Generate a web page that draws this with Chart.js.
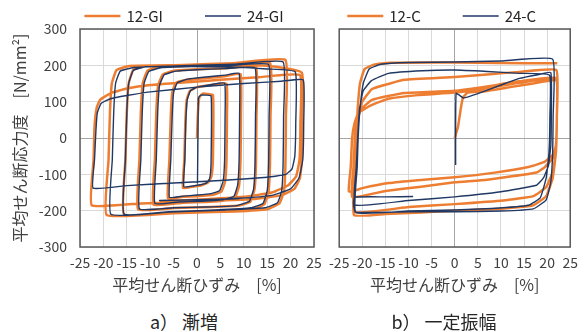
<!DOCTYPE html>
<html>
<head>
<meta charset="utf-8">
<script src="https://cdn.jsdelivr.net/npm/chart.js@4.4.1/dist/chart.umd.min.js"></script>
<style>
body { margin:0; background:#fff; width:585px; height:332px; position:relative; overflow:hidden; font-family:'Noto Sans CJK JP', sans-serif; }
.pane { position:absolute; top:0; }
.cap { position:absolute; top:311px; font-size:18px; line-height:20px; color:#262626; transform:translateX(-50%); white-space:nowrap; }
</style>
</head>
<body>
<div class="pane" style="left:0"><canvas id="chartA" width="330" height="300"></canvas></div>
<div class="pane" style="left:322px"><canvas id="chartB" width="263" height="300"></canvas></div>
<div class="cap" style="left:184px">a） 漸増</div>
<div class="cap" style="left:444px">b） 一定振幅</div>
<script>
const labelsA = ['12-GI', '24-GI'];
const labelsB = ['12-C', '24-C'];
const orange = '#ED7D31';
const navy = '#203864';

// a) 漸増 : 12-GI
const gi12X = [0, 0.2, 0.5, 1.2, 2.3, 3.4,
    3.5, 3.4, 3.1, 2.4, 1, -1, -3.0,
    -2.7, -2.5, -2.2, -1.5, 0, 3, 6.3,
    6.4, 6.3, 6.0, 5.2, 3.5, 0, -3, -6.2,
    -5.9, -5.6, -5.3, -4.5, -2.5, 2, 6, 9.3,
    9.4, 9.3, 9.0, 8.2, 6, 2, -3, -9.3,
    -9.0, -8.7, -8.3, -7.3, -5, 0, 6, 12.6,
    12.7, 12.6, 12.3, 11.4, 9, 3, -5, -12.6,
    -12.3, -12.0, -11.6, -10.6, -8, -2, 6, 15.6,
    15.7, 15.6, 15.3, 14.4, 12, 5, -5, -15.6,
    -15.3, -15.0, -14.6, -13.6, -11, -3, 8, 18.9,
    19.0, 18.9, 18.6, 17.6, 15, 8, -5, -19.3,
    -18.9, -18.6, -18.2, -17.2, -14.5, -5, 8, 15, 22.4,
    22.5, 22.4, 22.0, 20.8, 18, 12, 0, -12, -22.5,
    -22.1, -21.9, -21.4, -20.7, -18.5, -15, -10, -3, 5, 13, 22.0,
    22.1, 21.9, 21.2, 19.5, 16, 10, 0, -8];
const gi12Y = [0, 70, 112, 122, 121, 118,
    60, -60, -105, -122, -130, -134, -138,
    -60, 40, 105, 130, 140, 146, 150,
    60, -60, -120, -148, -156, -160, -162, -166,
    -60, 60, 125, 152, 160, 165, 170, 176,
    60, -60, -130, -162, -172, -176, -178, -183,
    -60, 70, 145, 175, 185, 189, 192, 195,
    60, -70, -140, -175, -186, -190, -193, -196,
    -60, 70, 150, 185, 196, 199, 202, 206,
    60, -70, -145, -182, -195, -200, -205, -211,
    -60, 70, 150, 188, 198, 201, 206, 215,
    60, -70, -145, -180, -196, -202, -207, -212,
    -60, 70, 150, 187, 198, 200, 201, 199, 180,
    60, -60, -110, -140, -158, -168, -175, -180, -185,
    -60, 30, 85, 105, 123, 136, 146, 153, 160, 167, 173,
    40, -60, -105, -130, -150, -162, -170, -174];

// a) 漸増 : 24-GI
const gi24X = [0.1, 0.2, 0.3, 0.8, 2, 3.0,
    3.1, 3.0, 2.7, 2.0, 0, -2.8,
    -2.6, -2.4, -2.1, -1.4, 0, 3, 5.9,
    6.0, 5.9, 5.6, 4.8, 3, 0, -3, -5.9,
    -5.6, -5.3, -5.0, -4.2, -2, 2, 6, 9.0,
    9.1, 9.0, 8.7, 7.9, 5.5, 1, -4, -9.0,
    -8.7, -8.4, -8.0, -7.0, -4.5, 0, 6, 12.4,
    12.5, 12.4, 12.1, 11.2, 8.5, 2, -5, -12.3,
    -12.0, -11.7, -11.3, -10.3, -7.5, -1, 7, 15.3,
    15.4, 15.3, 15.0, 14.1, 11.5, 4, -6, -15.6,
    -15.3, -15.0, -14.6, -13.6, -11, -3, 8, 18.4,
    18.5, 18.4, 18.1, 17.2, 14.5, 6, -6, -18.4,
    -18.1, -17.8, -17.4, -16.4, -13.5, -4, 8, 15, 21.0,
    21.1, 20.9, 20.3, 19.0, 15, 5, -5, -15, -22.2,
    -21.9, -21.6, -21.3, -20.5, -18.5, -15, -10, 0, 10, 18, 22.7,
    22.8, 22.6, 21.8, 20, 16, 9, 0, -8, 2, 9];
const gi24Y = [-125, 0, 110, 118, 118, 116,
    50, -70, -112, -124, -130, -134,
    -60, 40, 105, 130, 140, 147, 151,
    60, -60, -118, -145, -153, -157, -160, -163,
    -60, 60, 125, 152, 162, 168, 173, 178,
    60, -60, -128, -160, -170, -174, -176, -180,
    -60, 70, 145, 174, 184, 188, 191, 193,
    60, -70, -140, -174, -186, -190, -192, -195,
    -60, 70, 150, 183, 194, 197, 199, 202,
    60, -70, -145, -180, -192, -198, -203, -209,
    -60, 70, 150, 186, 196, 199, 203, 209,
    60, -70, -145, -178, -192, -198, -204, -210,
    -60, 70, 150, 184, 194, 197, 195, 190, 182,
    40, -50, -85, -100, -108, -117, -124, -131, -138,
    -60, 20, 69, 95, 108, 117, 127, 140, 150, 156, 160,
    40, -60, -110, -140, -158, -166, -170, -172, -170, -167];

// b) 一定振幅 : 12-C
const c12X = [0, 0.7, 1.3, 1.8, 2.8, 6, 12, 17, 22,
    22.1, 21.9, 21.3, 19.5, 16.2, 8.3, 0, -8, -14.3, -20, -22.9,
    -22.5, -22.2, -21.7, -20.8, -17.9, -14.3, -8, 0, 7, 14, 22,
    22.1, 21.9, 21.2, 19.5, 17.7, 7, 0, -7.3, -15, -22.2,
    -21.9, -21.6, -21.1, -20.2, -17.9, -10.9, 0, 7, 14, 22,
    22.1, 21.9, 21.3, 19.8, 17, 10.5, 0, -10, -21.8,
    -21.5, -21.3, -20.8, -20.0, -17.9, -14, -10.9, 0, 7, 14, 22,
    22.1, 21.9, 21.2, 19.8, 17, 10, 0, -7.3, -15, -21.8,
    -21.5, -21.3, -21.0, -20.5, -19.5, -17.5, -14, -5, 5, 15, 22.2];
const c12Y = [0, 30, 80, 112, 125, 128, 140, 150, 158,
    60, -20, -45, -65, -79, -96, -108, -116, -124, -138, -148,
    -80, 0, 40, 70, 91, 108, 118, 125, 137, 152, 162,
    60, -20, -55, -80, -95, -115, -122, -134, -146, -162,
    -80, 0, 50, 80, 105, 124, 130, 142, 156, 165,
    60, -30, -90, -135, -160, -172, -182, -190, -203,
    -80, 0, 60, 100, 135, 150, 160, 168, 175, 182, 187,
    60, -40, -110, -160, -185, -195, -200, -205, -209, -212,
    -80, 0, 80, 150, 190, 202, 207, 208, 207, 206, 206];

// b) 一定振幅 : 24-C
const c24X = [0.2, 0.2, 0.3, 1, 1.9, 5, 10.9, 14, 18, 20.8,
    20.9, 20.8, 20.3, 19.2, 17.7, 10, 0, -10, -21.6,
    -21.3, -21.0, -20.6, -19.8, -18, -14.3, -7, 0, 7, 14, 20.5,
    20.6, 20.4, 19.8, 18.5, 16, 8, 0, -10, -21.4,
    -21.1, -20.9, -20.5, -19.8, -18.5, -16, -10, 0, 10, 21.2,
    21.3, 21.2, 20.8, 19.8, 17, 10, 0, -10, -21.5,
    -21.9, -21.7, -15, -9];
const c24Y = [-74, 40, 123, 118, 110, 122, 150, 164, 174, 180,
    60, -20, -75, -110, -130, -148, -162, -172, -184,
    -80, 0, 80, 130, 158, 178, 185, 187, 183, 178, 173,
    60, -40, -110, -165, -185, -194, -198, -201, -205,
    -80, 0, 80, 150, 190, 203, 208, 209, 212, 217,
    60, -40, -120, -170, -195, -201, -203, -203, -204,
    -180, -163, -162, -161];

Chart.defaults.font.family = "'Noto Sans CJK JP', 'Noto Sans', sans-serif";
Chart.defaults.color = '#404040';

function toPoints(xs, ys)
{
    let pts = [];
    for (let i = 0; i < xs.length; i++) {
        pts.push({x: xs[i], y: ys[i]});
    }
    return pts;
}

function gridColor(c)
{
    return c.tick && c.tick.value === 0 ? '#A6A6A6' : '#D9D9D9';
}

// plot frame, and a line-style legend above it (a little left of centre, like the original)
const frame = {
    id: 'frame',
    afterDatasetsDraw(chart) {
        let a = chart.chartArea;
        let c = chart.ctx;
        c.save();
        c.strokeStyle = '#595959';
        c.lineWidth = 1.5;
        c.strokeRect(a.left, a.top, a.right - a.left, a.bottom - a.top);
        c.restore();
    },
    afterDraw(chart) {
        let a = chart.chartArea;
        let c = chart.ctx;
        let sets = chart.data.datasets;
        c.save();
        c.font = "15px 'Noto Sans CJK JP'";
        let widths = sets.map(d => 36 + 6 + c.measureText(d.label).width);
        let x = (a.left + a.right) / 2 - 13 - (widths[0] + 42 + widths[1]) / 2;
        let y = 16;
        sets.forEach((d, i) => {
            c.strokeStyle = d.borderColor;
            c.lineWidth = d.borderWidth;
            c.beginPath();
            c.moveTo(x, y);
            c.lineTo(x + 36, y);
            c.stroke();
            c.fillStyle = '#262626';
            c.textBaseline = 'middle';
            c.fillText(d.label, x + 42, y);
            x += widths[i] + 42;
        });
        c.restore();
    }
};

function makeChart(id, labels, ax, ay, bx, by, withY)
{
    let ctx = document.getElementById(id).getContext('2d');
    return new Chart(ctx, {
        type: 'scatter',
        data: {
            datasets: [
                { label: labels[0], data: toPoints(ax, ay), showLine: true, borderColor: orange, backgroundColor: orange,
                  borderWidth: 2.5, pointRadius: 0, tension: 0.12, order: 1 },
                { label: labels[1], data: toPoints(bx, by), showLine: true, borderColor: navy, backgroundColor: navy,
                  borderWidth: 1.4, pointRadius: 0, tension: 0.12, order: 0 }
            ]
        },
        options: {
            responsive: false,
            animation: false,
            devicePixelRatio: 1,
            layout: { padding: { left: 0, right: withY ? 16 : 14, top: 29, bottom: 0 } },
            plugins: {
                legend: { display: false },
                tooltip: { enabled: false }
            },
            scales: {
                x: {
                    type: 'linear', min: -25, max: 25,
                    afterFit: s => { s.height = 53; },
                    border: { display: false },
                    grid: { color: gridColor, drawTicks: false },
                    ticks: { stepSize: 5, autoSkip: false, maxRotation: 0, padding: 7, font: { size: 14 } },
                    title: { display: true, text: '平均せん断ひずみ　[%]', font: { size: 16 }, padding: { top: 0, bottom: 5 } }
                },
                y: {
                    type: 'linear', min: -300, max: 300,
                    afterFit: s => { s.width = withY ? 80 : 15; },
                    border: { display: false },
                    grid: { color: gridColor, drawTicks: false },
                    ticks: { display: withY, stepSize: 100, padding: 13, font: { size: 14 } },
                    title: { display: withY, text: '平均せん断応力度　[N/mm²]', font: { size: 16 }, padding: { top: 10, bottom: 0 } }
                }
            }
        },
        plugins: [frame]
    });
}

makeChart('chartA', labelsA, gi12X, gi12Y, gi24X, gi24Y, true);
makeChart('chartB', labelsB, c12X, c12Y, c24X, c24Y, false);
</script>
</body>
</html>
